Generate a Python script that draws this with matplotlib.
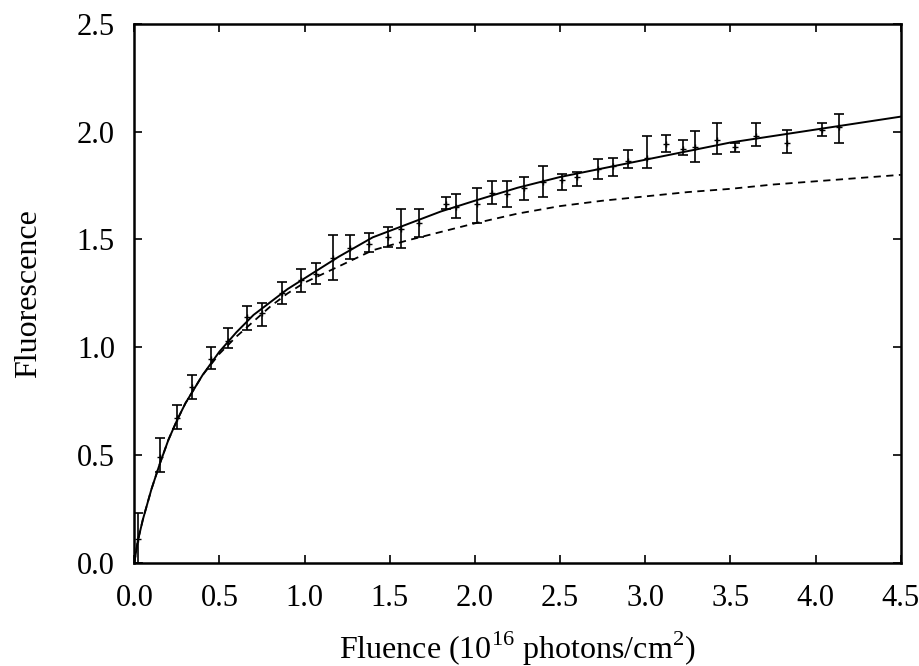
import matplotlib.pyplot as plt
import numpy as np

plt.rcParams['font.family'] = ['Liberation Serif', 'DejaVu Serif']
plt.rcParams['mathtext.fontset'] = 'custom'
plt.rcParams['mathtext.rm'] = 'Liberation Serif'

# measured points
fluence = [0.02, 0.15, 0.25, 0.34, 0.45, 0.55, 0.66, 0.75, 0.865, 0.98,
           1.065, 1.165, 1.265, 1.38, 1.49, 1.565, 1.67, 1.83, 1.89, 2.01,
           2.10, 2.19, 2.29, 2.40, 2.51, 2.60, 2.72, 2.81, 2.90, 3.01,
           3.12, 3.22, 3.29, 3.42, 3.53, 3.65, 3.83, 4.04, 4.14]
fluor = [0.11, 0.49, 0.67, 0.815, 0.945, 1.03, 1.14, 1.16, 1.25, 1.31,
         1.34, 1.415, 1.46, 1.48, 1.51, 1.55, 1.575, 1.665, 1.65, 1.665,
         1.715, 1.71, 1.74, 1.765, 1.775, 1.79, 1.825, 1.84, 1.865, 1.88,
         1.945, 1.92, 1.93, 1.96, 1.93, 1.98, 1.95, 2.01, 2.02]
err_lo = [0.11, 0.07, 0.05, 0.055, 0.045, 0.035, 0.06, 0.06, 0.05, 0.055,
          0.045, 0.105, 0.05, 0.04, 0.045, 0.09, 0.065, 0.025, 0.05, 0.09,
          0.05, 0.06, 0.055, 0.07, 0.045, 0.04, 0.045, 0.045, 0.035, 0.05,
          0.04, 0.03, 0.07, 0.065, 0.025, 0.045, 0.05, 0.03, 0.07]
err_hi = [0.12, 0.09, 0.06, 0.055, 0.055, 0.06, 0.05, 0.045, 0.055, 0.055,
          0.05, 0.105, 0.06, 0.05, 0.05, 0.09, 0.065, 0.03, 0.06, 0.075,
          0.055, 0.06, 0.05, 0.075, 0.03, 0.025, 0.05, 0.04, 0.05, 0.10,
          0.04, 0.04, 0.075, 0.08, 0.02, 0.06, 0.06, 0.03, 0.06]

# solid fit curve
fit_x = [0, 0.02, 0.05, 0.1, 0.15, 0.2, 0.25, 0.3, 0.4, 0.5, 0.6, 0.7, 0.8,
         0.9, 1.0, 1.2, 1.4, 1.6, 1.8, 2.0, 2.25, 2.5, 2.75, 3.0, 3.25, 3.5,
         3.75, 4.0, 4.25, 4.5]
fit_y = [0, 0.10, 0.20, 0.34, 0.46, 0.57, 0.66, 0.74, 0.87, 0.98, 1.07, 1.15,
         1.21, 1.27, 1.32, 1.42, 1.51, 1.57, 1.63, 1.68, 1.74, 1.79, 1.83,
         1.87, 1.91, 1.95, 1.98, 2.01, 2.04, 2.07]

# dashed model curve
model_x = [0, 0.02, 0.05, 0.1, 0.15, 0.2, 0.25, 0.3, 0.4, 0.5, 0.6, 0.7, 0.8,
           0.9, 1.0, 1.2, 1.4, 1.6, 1.8, 2.0, 2.25, 2.5, 2.75, 3.0, 3.25, 3.5,
           3.75, 4.0, 4.25, 4.5]
model_y = [0, 0.10, 0.20, 0.34, 0.46, 0.57, 0.66, 0.74, 0.87, 0.97, 1.05, 1.12,
           1.19, 1.25, 1.30, 1.375, 1.45, 1.495, 1.535, 1.575, 1.62, 1.655,
           1.68, 1.70, 1.72, 1.735, 1.755, 1.77, 1.785, 1.80]

fig = plt.figure(figsize=(9.2, 6.66), dpi=100)
ax = fig.add_axes([0.146, 0.155, 0.833, 0.809])

ax.plot(fit_x, fit_y, color='black', lw=1.4)
ax.plot(model_x, model_y, color='black', lw=1.3, linestyle=(0, (4, 3)))
ax.errorbar(fluence, fluor, yerr=[err_lo, err_hi], fmt='+', color='black',
            ms=4, elinewidth=1.2, capsize=3.5, capthick=1.2)

ax.set_xlim(0, 4.5)
ax.set_ylim(0, 2.5)
ax.set_xticks(np.arange(0, 4.51, 0.5))
ax.set_yticks(np.arange(0, 2.51, 0.5))
ax.xaxis.set_major_formatter(plt.FormatStrFormatter('%.1f'))
ax.yaxis.set_major_formatter(plt.FormatStrFormatter('%.1f'))
ax.tick_params(direction='in', top=True, right=True, length=6, width=1.2,
               labelsize=22)
ax.tick_params(axis='x', pad=15)
ax.tick_params(axis='y', pad=14)
for s in ax.spines.values():
    s.set_linewidth(1.8)

ax.set_xlabel(r'Fluence (10$^{16}$ photons/cm$^{2}$)', fontsize=23, labelpad=12)
ax.set_ylabel('Fluorescence', fontsize=23, labelpad=24)

fig.savefig('out.png', dpi=100)
